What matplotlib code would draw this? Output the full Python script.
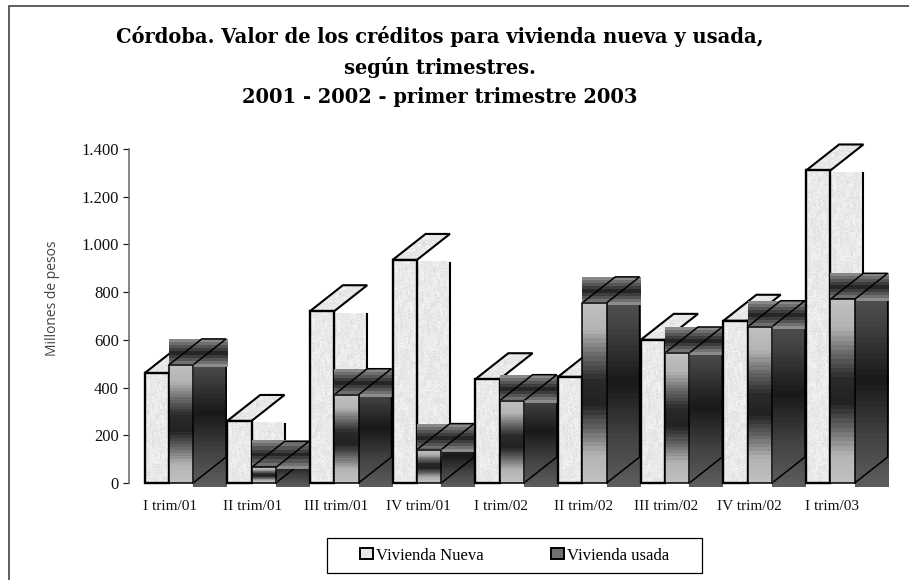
import numpy as np
import matplotlib
matplotlib.use("Agg")
import matplotlib.pyplot as plt
from matplotlib.colors import LinearSegmentedColormap
from matplotlib.lines import Line2D
from matplotlib.patches import Polygon, Patch, Rectangle

categories = ["I trim/01", "II trim/01", "III trim/01", "IV trim/01", "I trim/02",
              "II trim/02", "III trim/02", "IV trim/02", "I trim/03"]
vivienda_nueva = [460, 260, 720, 935, 435, 445, 600, 680, 1310]
vivienda_usada = [495, 65, 370, 140, 345, 755, 545, 655, 770]
y_ticks = [0, 200, 400, 600, 800, 1000, 1200, 1400]
y_tick_labels = ["0", "200", "400", "600", "800", "1.000", "1.200", "1.400"]
title = ("Córdoba. Valor de los créditos para vivienda nueva y usada,\n"
         "según trimestres.\n2001 - 2002 - primer trimestre 2003")

W, H = 909, 580
fig = plt.figure(figsize=(W / 100, H / 100), dpi=100, facecolor="white")
CAT_PX = 82.7
AX_L, AX_B_PX, AX_T_PX = 129, 483, 149
ax = fig.add_axes([AX_L / W, 1 - AX_B_PX / H, CAT_PX * 9 / W, (AX_B_PX - AX_T_PX) / H])
ax.set_xlim(0, 9)
ax.set_ylim(0, 1400)
PX_X = 1 / CAT_PX
PX_Y = 1400 / (AX_B_PX - AX_T_PX)

OFFSET = 15.5 * PX_X
BAR_W = 24.3 * PX_X
DX = 33 * PX_X
DY = 26 * PX_Y
LW = 1.5

front_cmap = LinearSegmentedColormap.from_list(
    "f", ["#c0c0c0", "#b4b4b4", "#6a6a6a", "#2a2a2a", "#222222", "#6a6a6a", "#b4b4b4", "#c0c0c0"], N=40)
side_cmap = LinearSegmentedColormap.from_list(
    "s", ["#5c5c5c", "#404040", "#181818", "#404040", "#5c5c5c"], N=40)
top_cmap = LinearSegmentedColormap.from_list(
    "t", ["#888888", "#555555", "#262626", "#555555", "#8c8c8c"], N=9)
grad = np.linspace(0, 1, 256)[:, None]

yy, xx = np.mgrid[0:360, 0:40]
h1 = np.modf(np.sin(xx * 12.9898 + yy * 78.233) * 43758.5453)[0]
h2 = np.modf(np.sin((xx // 4) * 39.346 + (yy // 6) * 11.135) * 24634.6345)[0]
tex = np.clip(0.90 + 0.07 * np.abs(h1) - 0.04 * np.abs(h2), 0, 1)


def texture(n_rows):
    return tex[: max(int(n_rows), 2)]


def put(arr, extent, z, cmap, clip=None, vmin=0, vmax=1):
    im = ax.imshow(arr, extent=extent, aspect="auto", cmap=cmap, vmin=vmin, vmax=vmax,
                   interpolation="nearest", zorder=z, origin="upper")
    if clip is not None:
        p = Polygon(clip, closed=True, transform=ax.transData)
        im.set_clip_box(fig.bbox)
        im.set_clip_path(p)
    else:
        im.set_clip_on(False)
    return im


def poly(pts, z, lw=LW):
    ax.add_patch(Polygon(pts, closed=True, fill=False, edgecolor="black", lw=lw,
                         zorder=z, clip_on=False, joinstyle="miter"))


for i, (n, u) in enumerate(zip(vivienda_nueva, vivienda_usada)):
    x0 = i + OFFSET
    x1 = x0 + BAR_W
    x2 = x1 + BAR_W
    z = 3 + i * 10
    # Vivienda Nueva: side, top, front
    put(texture(n / PX_Y), (x1, x1 + DX, 0, n - 2 * PX_Y), z, "gray")
    ax.plot([x1 + DX, x1 + DX], [DY, n - 2 * PX_Y], color="black", lw=LW, zorder=z + 0.1,
            solid_capstyle="butt", clip_on=False)
    top = [(x0, n), (x1, n), (x1 + DX, n + DY), (x0 + DX, n + DY)]
    put(texture(DY / PX_Y), (x0, x1 + DX, n, n + DY), z + 0.2, "gray", clip=top)
    poly(top, z + 0.3)
    put(texture(n / PX_Y), (x0, x1, 0, n), z + 0.4, "gray")
    poly([(x0, 0), (x1, 0), (x1, n), (x0, n)], z + 0.5, lw=1.7)
    # Vivienda usada: side, top, front
    put(grad, (x2, x2 + DX + 1 * PX_X, -3.5 * PX_Y, u + DY), z + 1, side_cmap)
    ax.plot([x2, x2 + DX, x2 + DX], [0, DY, u], color="black", lw=1.1, zorder=z + 1.1,
            solid_joinstyle="miter", clip_on=False)
    put(grad, (x1, x2 + DX + 1 * PX_X, u - 2 * PX_Y, u + DY), z + 1.2, top_cmap)
    poly([(x1, u), (x2, u), (x2 + DX, u + DY), (x1 + DX, u + DY)], z + 1.3, lw=1.1)
    put(grad, (x1, x2, 0, u), z + 1.4, front_cmap)
    poly([(x1, 0), (x2, 0), (x2, u), (x1, u)], z + 1.5, lw=1.1)

ax.set_xlim(0, 9)
ax.set_ylim(0, 1400)
for s in ("top", "right", "bottom"):
    ax.spines[s].set_visible(False)
ax.spines["left"].set_color("#666666")
ax.spines["left"].set_linewidth(1.1)
ax.set_yticks(y_ticks)
ax.set_yticklabels(y_tick_labels, fontfamily="Liberation Serif", fontsize=12, color="#111111")
ax.tick_params(axis="y", length=4.2, width=0.8, pad=3, color="#111111")
ax.set_xticks(np.arange(9) + 0.5)
ax.set_xticklabels(categories, fontfamily="Liberation Serif", fontsize=11, color="#111111")
ax.tick_params(axis="x", length=0, pad=12)

fig.text(53 / W, 1 - 298 / H, "Millones de pesos", rotation=90, ha="center", va="center",
         fontfamily="Open Sans", fontsize=10, color="#444444")
fig.text(440 / W, 1 - 66.5 / H, title, ha="center", va="center", fontfamily="DejaVu Serif",
         fontweight="bold", fontsize=14.05, linespacing=1.6, color="black")

fig.add_artist(Line2D([9 / W, 9 / W, 1], [0, 1 - 6 / H, 1 - 6 / H], color="#333333", lw=1.1,
                      solid_joinstyle="miter"))

fig.add_artist(Rectangle((326.5 / W, 1 - 573 / H), 375.5 / W, 35 / H, transform=fig.transFigure,
                         facecolor="white", edgecolor="black", lw=0.9))
handles = [Patch(facecolor="#e8e8e8", edgecolor="black", lw=1.4, label="Vivienda Nueva"),
           Patch(facecolor="#707070", edgecolor="black", lw=1.4, label="Vivienda usada")]
leg = fig.legend(handles=handles, ncol=2, loc="center",
                 bbox_to_anchor=(514.5 / W, 1 - 555.5 / H),
                 prop={"family": "Liberation Serif", "size": 12},
                 frameon=False, handlelength=0.8, handleheight=0.65, handletextpad=0.2,
                 columnspacing=4.0, borderpad=0, borderaxespad=0)
leg.set_zorder(10)

fig.savefig("out.png", dpi=100)
